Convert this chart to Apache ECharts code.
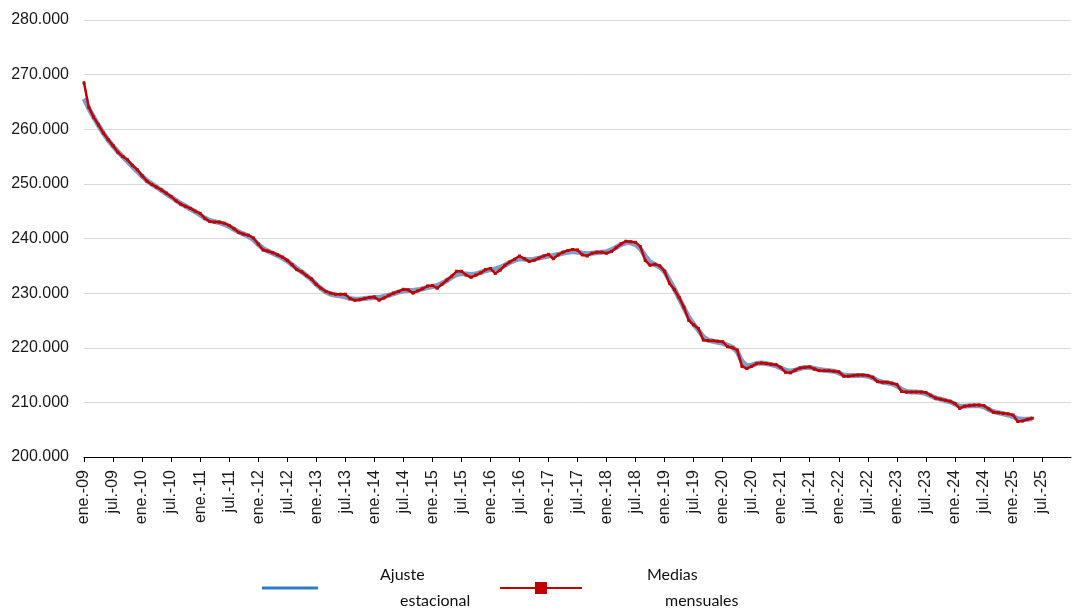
<!DOCTYPE html>
<html>
<head>
<meta charset="utf-8">
<script src="https://cdn.jsdelivr.net/npm/echarts@6/dist/echarts.min.js"></script>
<style>
  html, body { margin: 0; padding: 0; background: #fff; }
  #chart { width: 1072px; height: 610px; }
</style>
</head>
<body>
<div id="chart"></div>
<script>
// meses (ene.-09 .. ene.-26), una etiqueta cada 6 meses
const monthNames = ["ene.", "feb.", "mar.", "abr.", "may.", "jun.", "jul.", "ago.", "sep.", "oct.", "nov.", "dic."];
const firstYear = 2009;
const monthCount = 205;
const categories = [];
for (let i = 0; i < monthCount; i++) {
  const y = firstYear + Math.floor(i / 12);
  categories.push(monthNames[i % 12] + "-" + String(y).slice(2));
}

// valores en miles
const yTicks = [200, 210, 220, 230, 240, 250, 260, 270, 280];

const ajusteEstacional = [
  265.6, 263.8, 262.2, 260.7, 259.3, 258.0, 256.9, 255.9, 255.0, 254.1, 253.2, 252.3,
  251.4, 250.6, 250.0, 249.4, 248.8, 248.2, 247.6, 247.0, 246.4, 245.9, 245.4, 244.9,
  244.3, 243.7, 243.3, 243.1, 242.9, 242.6, 242.2, 241.7, 241.2, 240.8, 240.4, 239.8,
  238.9, 238.2, 237.7, 237.3, 236.9, 236.4, 235.9, 235.2, 234.5, 233.9, 233.2, 232.5,
  231.6, 230.8, 230.2, 229.8, 229.6, 229.5, 229.3, 229.0, 228.9, 228.9, 229.0, 229.1,
  229.2, 229.2, 229.4, 229.6, 229.9, 230.2, 230.4, 230.5, 230.5, 230.6, 230.8, 231.0,
  231.2, 231.4, 231.8, 232.3, 232.9, 233.4, 233.6, 233.5, 233.4, 233.5, 233.8, 234.1,
  234.3, 234.4, 234.7, 235.1, 235.6, 236.0, 236.3, 236.2, 236.1, 236.2, 236.4, 236.6,
  236.8, 236.9, 237.1, 237.3, 237.5, 237.6, 237.5, 237.3, 237.2, 237.3, 237.4, 237.5,
  237.6, 237.9, 238.4, 238.9, 239.2, 239.2, 238.9, 238.1, 236.8, 235.7, 235.2, 234.8,
  233.9, 232.4, 230.8, 229.1, 227.3, 225.6, 224.3, 223.2, 222.0, 221.4, 221.2, 221.0,
  220.8, 220.5, 220.1, 219.3, 217.5, 216.7, 216.8, 217.1, 217.2, 217.1, 216.9, 216.7,
  216.3, 215.9, 215.7, 215.9, 216.2, 216.4, 216.4, 216.2, 216.0, 215.9, 215.8, 215.7,
  215.4, 215.0, 214.9, 214.9, 214.9, 214.9, 214.8, 214.5, 214.0, 213.7, 213.6, 213.4,
  213.0, 212.4, 212.0, 211.9, 211.9, 211.8, 211.6, 211.2, 210.8, 210.6, 210.3, 210.1,
  209.7, 209.3, 209.3, 209.4, 209.4, 209.4, 209.2, 208.7, 208.3, 208.1, 207.9, 207.7,
  207.4, 207.0, 206.9, 206.9, 207.0
];

const mediasMensuales = [
  268.5, 264.0, 262.2, 260.8, 259.3, 258.1, 257.0, 255.8, 255.0, 254.4, 253.4, 252.6,
  251.5, 250.5, 249.9, 249.4, 248.9, 248.3, 247.7, 246.9, 246.3, 245.9, 245.5, 245.0,
  244.6, 243.7, 243.1, 243.0, 243.0, 242.8, 242.4, 241.8, 241.1, 240.8, 240.6, 240.1,
  239.0, 237.9, 237.7, 237.4, 237.0, 236.6, 236.0, 235.2, 234.3, 233.9, 233.2, 232.6,
  231.6, 230.9, 230.3, 230.0, 229.8, 229.8, 229.8, 229.0, 228.7, 228.8, 229.0, 229.2,
  229.3, 228.7, 229.1, 229.6, 230.0, 230.3, 230.7, 230.6, 230.0, 230.4, 230.8, 231.3,
  231.4, 230.9, 231.6, 232.4, 233.1, 234.0, 234.0, 233.3, 232.9, 233.3, 233.7, 234.3,
  234.5, 233.6, 234.2, 235.1, 235.7, 236.2, 236.8, 236.3, 235.8, 236.0, 236.4, 236.8,
  237.1, 236.3, 237.0, 237.5, 237.8, 238.0, 237.9, 237.0, 236.8, 237.3, 237.5, 237.5,
  237.3, 237.6, 238.3, 239.0, 239.5, 239.4, 239.3, 238.5, 236.0, 235.1, 235.3, 235.0,
  234.0, 231.8, 230.7, 229.2, 227.4, 225.0, 224.2, 223.5, 221.4, 221.3, 221.3, 221.2,
  221.1, 220.2, 220.0, 219.6, 216.6, 216.2, 216.6, 217.1, 217.2, 217.1, 217.0, 216.9,
  216.4, 215.5, 215.4, 215.9, 216.3, 216.4, 216.5, 216.1, 215.8, 215.8, 215.8, 215.7,
  215.6, 214.8, 214.8, 214.9, 215.0, 215.0, 214.9, 214.6, 213.8, 213.7, 213.7, 213.5,
  213.3, 212.0, 211.9, 211.9, 211.9, 211.9, 211.8, 211.3, 210.8, 210.6, 210.4, 210.2,
  209.8, 208.9, 209.3, 209.4, 209.5, 209.5, 209.4, 208.8, 208.2, 208.1, 208.0, 207.9,
  207.7, 206.5, 206.6, 206.9, 207.1
];

const fmtMiles = (v) => String(Math.round(v * 1000)).replace(/\B(?=(\d{3})+(?!\d))/g, ".");
const showEvery6 = (idx) => idx % 6 === 0 && idx < monthCount - 1;

const chart = echarts.init(document.getElementById("chart"));

const legendBase = {
  top: 557,
  orient: "horizontal",
  itemHeight: 15,
  textStyle: {
    fontFamily: "Lato",
    fontSize: 16,
    color: "#111",
    lineHeight: 26,
  },
  selectedMode: false,
};

chart.setOption({
  animation: false,
  grid: { left: 84, right: 1, top: 20, bottom: 153 },
  legend: [
    {
      ...legendBase,
      left: 257,
      itemWidth: 56,
      data: [{ name: "Ajuste estacional", icon: "path://M0,0H56V3H0Z", itemStyle: { color: "#2f7cc6" } }],
      formatter: () => "{a|Ajuste}\n{b|estacional}",
      textStyle: {
        ...legendBase.textStyle,
        rich: {
          a: { fontFamily: "Lato", fontSize: 16, color: "#111", padding: [0, 0, 0, 57] },
          b: { fontFamily: "Lato", fontSize: 16, color: "#111", padding: [0, 0, 0, 77] },
        },
      },
    },
    {
      ...legendBase,
      left: 494,
      itemWidth: 82,
      data: ["Medias mensuales"],
      formatter: () => "{a|Medias}\n{b|mensuales}",
      textStyle: {
        ...legendBase.textStyle,
        rich: {
          a: { fontFamily: "Lato", fontSize: 16, color: "#111", padding: [0, 0, 0, 60] },
          b: { fontFamily: "Lato", fontSize: 16, color: "#111", padding: [0, 0, 0, 78] },
        },
      },
    },
  ],
  xAxis: {
    type: "category",
    data: categories,
    boundaryGap: false,
    axisLine: { lineStyle: { color: "#000", width: 1 } },
    axisTick: { interval: showEvery6, length: 5, lineStyle: { color: "#000" } },
    axisLabel: {
      interval: showEvery6,
      rotate: 90,
      margin: 13,
      fontFamily: "Liberation Sans",
      fontSize: 16,
      color: "#1a1a1a",
    },
    splitLine: { show: false },
  },
  yAxis: {
    type: "value",
    min: yTicks[0],
    max: yTicks[yTicks.length - 1],
    interval: 10,
    axisLine: { show: false },
    axisTick: { show: false },
    axisLabel: {
      margin: 15,
      fontFamily: "Liberation Sans",
      fontSize: 16,
      color: "#1a1a1a",
      formatter: fmtMiles,
    },
    splitLine: { lineStyle: { color: "#d9d9d9", width: 1 } },
  },
  series: [
    {
      name: "Ajuste estacional",
      type: "line",
      data: ajusteEstacional,
      symbol: "none",
      itemStyle: { color: "#7f9ec7" },
      lineStyle: { color: "#7f9ec7", width: 5 },
      z: 2,
    },
    {
      name: "Medias mensuales",
      type: "line",
      data: mediasMensuales,
      symbol: "rect",
      symbolSize: 3,
      showAllSymbol: true,
      itemStyle: { color: "#c00000" },
      lineStyle: { color: "#c00000", width: 2.5 },
      z: 3,
    },
  ],
});
</script>
</body>
</html>
